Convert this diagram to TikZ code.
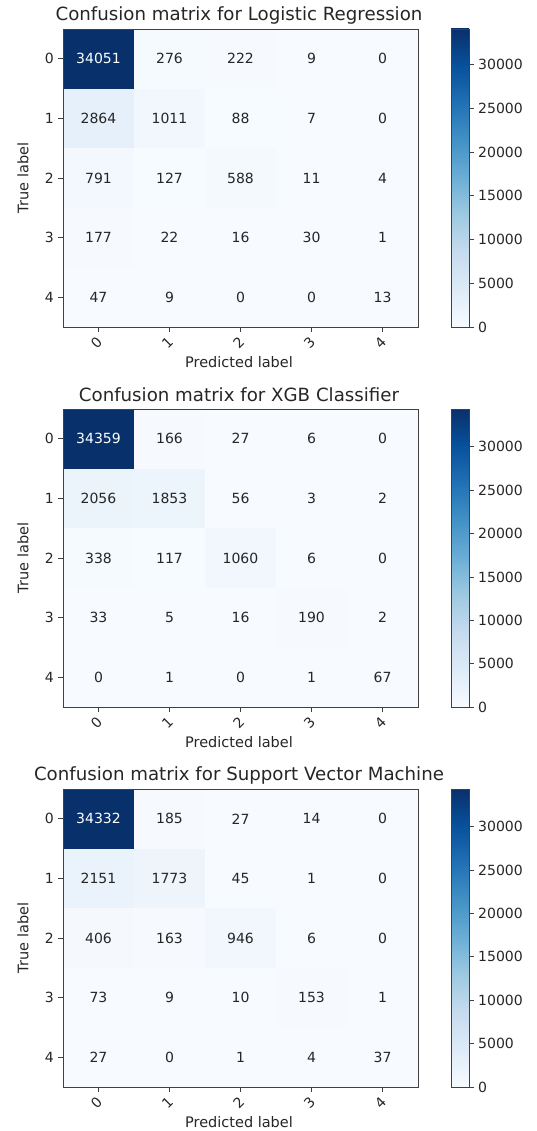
\documentclass[tikz,border=0pt]{standalone}
\usepackage{fontspec}
\setmainfont{DejaVu Sans}
\definecolor{az0}{HTML}{F7FBFF}
\definecolor{az1}{HTML}{DEEBF7}
\definecolor{az2}{HTML}{C6DBEF}
\definecolor{az3}{HTML}{9ECAE1}
\definecolor{az4}{HTML}{6BAED6}
\definecolor{az5}{HTML}{4292C6}
\definecolor{az6}{HTML}{2171B5}
\definecolor{az7}{HTML}{08519C}
\definecolor{az8}{HTML}{08306B}
\pgfdeclareverticalshading{blues}{100bp}{color(0bp)=(az0); color(25bp)=(az0);
  color(31.25bp)=(az1); color(37.5bp)=(az2); color(43.75bp)=(az3); color(50bp)=(az4);
  color(56.25bp)=(az5); color(62.5bp)=(az6); color(68.75bp)=(az7); color(75bp)=(az8);
  color(100bp)=(az8)}
% tono de la celda segun valor / maximo (mapa Blues)
\newcommand\tonoazul[2]{%
  \pgfmathsetmacro\posc{\fpeval{round(8*#1/#2,4)}}%
  \pgfmathtruncatemacro\seg{min(\posc,7)}%
  \pgfmathtruncatemacro\segb{\seg+1}%
  \pgfmathsetmacro\frc{\posc-\seg}%
  \pgfmathtruncatemacro\canalR{round({247,222,198,158,107,66,33,8,8}[\seg]*(1-\frc)+{247,222,198,158,107,66,33,8,8}[\segb]*\frc)}%
  \pgfmathtruncatemacro\canalG{round({251,235,219,202,174,146,113,81,48}[\seg]*(1-\frc)+{251,235,219,202,174,146,113,81,48}[\segb]*\frc)}%
  \pgfmathtruncatemacro\canalB{round({255,247,239,225,214,198,181,156,107}[\seg]*(1-\frc)+{255,247,239,225,214,198,181,156,107}[\segb]*\frc)}%
  \definecolor{tono}{RGB}{\canalR,\canalG,\canalB}%
  \ifdim\posc pt>4pt \def\colt{white}\else\def\colt{black!85}\fi}
\begin{document}
\begin{tikzpicture}[x=1pt, y=-1pt,
    celda/.style={inner sep=0pt, minimum width=71pt, minimum height=59.6pt, font=\fontsize{14}{16}\selectfont},
    marco/.style={draw=black!75, line width=0.8pt},
    marca/.style={draw=black!75, line width=0.8pt},
    etqEje/.style={font=\fontsize{14}{16}\selectfont, text=black!85, inner sep=0pt},
    titulo/.style={font=\fontsize{18.2}{20}\selectfont, text=black!85, inner sep=0pt},
    nombreEje/.style={font=\fontsize{14.5}{16}\selectfont, text=black!85, inner sep=0pt}
  ]
  \useasboundingbox (0,0) rectangle (536,1131);
  \foreach \p/\titulo/\vmax/\datos in {
      0/{Logistic Regression}/34051/{{34051,276,222,9,0},{2864,1011,88,7,0},{791,127,588,11,4},{177,22,16,30,1},{47,9,0,0,13}},
      1/{XGB Classifier}/34359/{{34359,166,27,6,0},{2056,1853,56,3,2},{338,117,1060,6,0},{33,5,16,190,2},{0,1,0,1,67}},
      2/{Support Vector Machine}/34332/{{34332,185,27,14,0},{2151,1773,45,1,0},{406,163,946,6,0},{73,9,10,153,1},{27,0,1,4,37}}}{
    \begin{scope}[shift={(0,380*\p)}]
      % --- titulo y celdas ---
      \node[titulo] (tit\p) at (239,15) {Confusion matrix for \titulo};
      \foreach \fila [count=\i from 0] in \datos {
        \foreach \v [count=\j from 0] in \fila {
          \tonoazul{\v}{\vmax}
          \node[celda, fill=tono, text=\colt] (c\p\i\j) at (98.5+71*\j, 58.8+59.6*\i) {\v};
        }
      }
      \draw[marco] (63,29) rectangle (418,327);
      % --- ejes ---
      \foreach \k in {0,...,4} {
        \draw[marca] (58,58.8+59.6*\k) -- (63,58.8+59.6*\k);
        \node[etqEje, anchor=east] (ey\p\k) at (54,58.8+59.6*\k) {\k};
        \draw[marca] (98.5+71*\k,327) -- (98.5+71*\k,332);
        \node[etqEje, rotate=45] (ex\p\k) at (96.5+71*\k,343) {\k};
      }
      \node[nombreEje] (px\p) at (239,362) {Predicted label};
      \node[nombreEje, rotate=90] (ty\p) at (23,178) {True label};
      % --- barra de color ---
      \shade[shading=blues] (451,29) rectangle (469,327);
      \draw[marco] (451,29) rectangle (469,327);
      \foreach \t in {0,5000,10000,15000,20000,25000,30000} {
        \pgfmathsetmacro\yt{327-298*\fpeval{round(\t/\vmax,5)}}
        \draw[marca] (469,\yt) -- (474,\yt);
        \node[etqEje, anchor=west] (cb\p\t) at (478,\yt) {\t};
      }
    \end{scope}
  }
\end{tikzpicture}
\end{document}
